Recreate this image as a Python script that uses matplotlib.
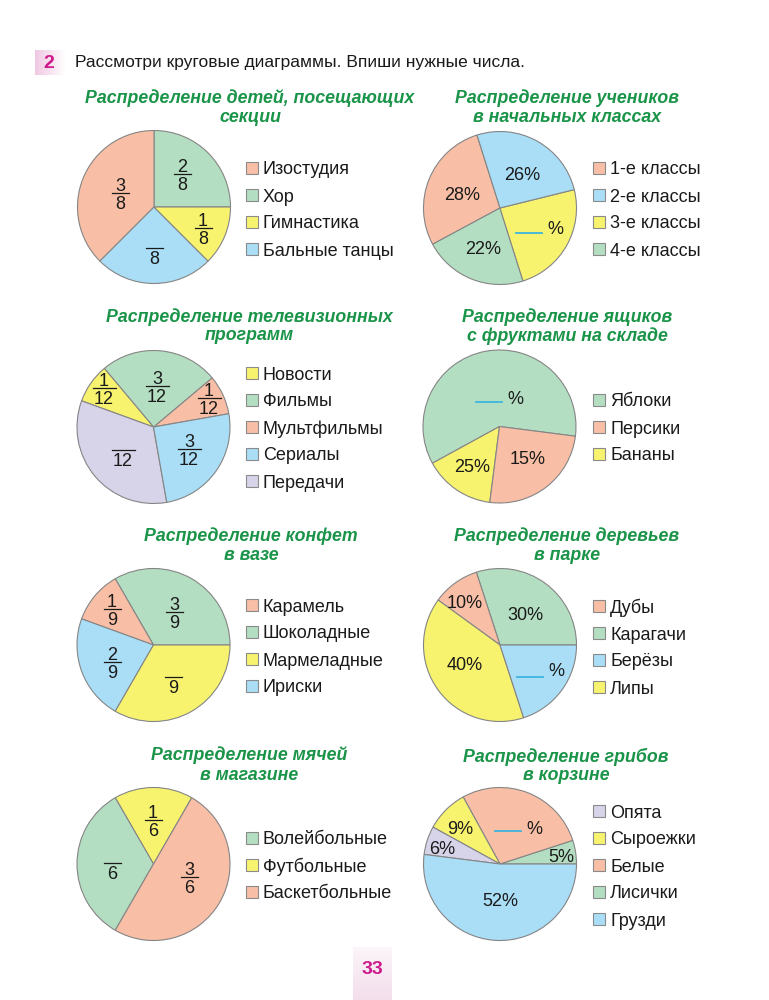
import matplotlib.pyplot as plt
import numpy as np
from matplotlib.patches import Rectangle
from matplotlib.colors import LinearSegmentedColormap

W, H = 769, 1000
FONT = ['Liberation Sans', 'DejaVu Sans']

PINK = '#F9BFA6'
GREEN = '#B4DEC2'
YELLOW = '#F7F36F'
BLUE = '#A9DEF6'
LILAC = '#D7D4EA'
TITLE_GREEN = '#1A9448'
MAGENTA = '#CF1A8C'
BLANK = '#3DB5DE'
FS = 13

# --- data (legend order) ---
sec_labels = ['Изостудия', 'Хор', 'Гимнастика', 'Бальные танцы']
sec_values = [3, 2, 1, 2]
sec_text = [('3', '8'), ('2', '8'), ('1', '8'), ('', '8')]

cls_labels = ['1-е классы', '2-е классы', '3-е классы', '4-е классы']
cls_values = [28, 26, 24, 22]
cls_text = ['28%', '26%', '', '22%']

tv_labels = ['Новости', 'Фильмы', 'Мультфильмы', 'Сериалы', 'Передачи']
tv_values = [1, 3, 1, 3, 4]
tv_text = [('1', '12'), ('3', '12'), ('1', '12'), ('3', '12'), ('', '12')]

fruit_labels = ['Яблоки', 'Персики', 'Бананы']
fruit_values = [60, 25, 15]          # wedge sizes as drawn
fruit_text = ['', '15%', '25%']      # numbers as printed

candy_labels = ['Карамель', 'Шоколадные', 'Мармеладные', 'Ириски']
candy_values = [1, 3, 3, 2]
candy_text = [('1', '9'), ('3', '9'), ('', '9'), ('2', '9')]

tree_labels = ['Дубы', 'Карагачи', 'Берёзы', 'Липы']
tree_values = [10, 30, 20, 40]
tree_text = ['10%', '30%', '', '40%']

ball_labels = ['Волейбольные', 'Футбольные', 'Баскетбольные']
ball_values = [2, 1, 3]
ball_text = [('', '6'), ('1', '6'), ('3', '6')]

mush_labels = ['Опята', 'Сыроежки', 'Белые', 'Лисички', 'Грузди']
mush_values = [6, 9, 28, 5, 52]
mush_text = ['6%', '9%', '', '5%', '52%']

# --- layout ---
charts = [
    dict(title=['Распределение детей, посещающих', 'секции'], tx=250, ty=[96, 115],
         labels=sec_labels, values=sec_values, text=sec_text, kind='frac',
         colors=[PINK, GREEN, YELLOW, BLUE], order=[1, 0, 3, 2], start=0,
         c=(154, 207), lx=246, ly=[168, 195, 222, 249],
         pos=[(120, 193), (182, 174), (203, 228), (154, 248)]),
    dict(title=['Распределение учеников', 'в начальных классах'], tx=567, ty=[96, 115],
         labels=cls_labels, values=cls_values, text=cls_text, kind='pct',
         colors=[PINK, BLUE, YELLOW, GREEN], order=[0, 3, 2, 1], start=107.5,
         c=(500, 208), lx=593, ly=[168, 195, 222, 249],
         pos=[(462, 193), (522, 173), (529, 233), (483, 248)], pct=(555, 227)),
    dict(title=['Распределение телевизионных', 'программ'], tx=249, ty=[315, 334],
         labels=tv_labels, values=tv_values, text=tv_text, kind='frac',
         colors=[YELLOW, GREEN, PINK, BLUE, LILAC], order=[2, 1, 0, 4, 3], start=10,
         c=(153.5, 427), lx=246, ly=[373, 400, 427, 454, 481],
         pos=[(104, 388), (157, 386), (209, 398), (189, 449), (123, 450)]),
    dict(title=['Распределение ящиков', 'с фруктами на складе'], tx=567, ty=[315, 334],
         labels=fruit_labels, values=fruit_values, text=fruit_text, kind='pct',
         colors=[GREEN, PINK, YELLOW], order=[0, 2, 1], start=-7.3,
         c=(499.5, 426.5), lx=593, ly=[400, 427, 454],
         pos=[(489, 402), (528, 458), (472, 466)], pct=(515, 397)),
    dict(title=['Распределение конфет', 'в вазе'], tx=251, ty=[534, 554],
         labels=candy_labels, values=candy_values, text=candy_text, kind='frac',
         colors=[PINK, GREEN, YELLOW, BLUE], order=[1, 0, 3, 2], start=0,
         c=(153.5, 645), lx=246, ly=[605, 632, 659, 686],
         pos=[(112, 609), (174, 612), (173, 677), (112, 662)]),
    dict(title=['Распределение деревьев', 'в парке'], tx=567, ty=[534, 554],
         labels=tree_labels, values=tree_values, text=tree_text, kind='pct',
         colors=[PINK, GREEN, BLUE, YELLOW], order=[1, 0, 3, 2], start=0,
         c=(500, 645), lx=593, ly=[606, 633, 660, 687],
         pos=[(465, 602), (525, 614), (530, 677), (465, 663)], pct=(556, 670)),
    dict(title=['Распределение мячей', 'в магазине'], tx=249, ty=[753, 773],
         labels=ball_labels, values=ball_values, text=ball_text, kind='frac',
         colors=[GREEN, YELLOW, PINK], order=[1, 0, 2], start=60,
         c=(153.5, 864), lx=246, ly=[838, 865, 892],
         pos=[(112, 863), (153, 820), (189, 877)]),
    dict(title=['Распределение грибов', 'в корзине'], tx=566, ty=[755, 773],
         labels=mush_labels, values=mush_values, text=mush_text, kind='pct',
         colors=[LILAC, YELLOW, PINK, GREEN, BLUE], order=[3, 2, 1, 0, 4], start=0,
         c=(500, 864), lx=593, ly=[811, 838, 865, 892, 919],
         pos=[(442, 847), (460, 828), (508, 831), (561, 856), (500, 899)], pct=(534, 827)),
]
R = 76.5


def Y(y):
    return H - y


fig = plt.figure(figsize=(W / 100, H / 100), dpi=100)
ax = fig.add_axes([0, 0, 1, 1])

# header
cm_head = LinearSegmentedColormap.from_list('h', ['#EFC9E2', '#FFFFFF'])
ax.imshow(np.linspace(0, 1, 64).reshape(1, -1), cmap=cm_head, aspect='auto',
          extent=[35, 66, Y(75), Y(50)], zorder=0)
ax.text(49, Y(62), '2', color=MAGENTA, fontsize=14, fontweight='bold',
        ha='center', va='center_baseline', family=FONT)
ax.text(75, Y(61), 'Рассмотри круговые диаграммы. Впиши нужные числа.',
        color='#1a1a1a', fontsize=12.5, ha='left', va='center_baseline', family=FONT)

for ch in charts:
    cx, cy = ch['c']
    order = ch['order']
    ax.pie([ch['values'][i] for i in order],
           colors=[ch['colors'][i] for i in order],
           startangle=ch['start'], counterclock=True,
           center=(cx, Y(cy)), radius=R,
           wedgeprops=dict(edgecolor='#858585', linewidth=0.8))

    for line, ty in zip(ch['title'], ch['ty']):
        ax.text(ch['tx'], Y(ty), line, color=TITLE_GREEN, fontsize=12.8,
                fontweight='bold', fontstyle='italic', ha='center',
                va='center_baseline', family=FONT)

    # legend
    for lab, col, ly in zip(ch['labels'], ch['colors'], ch['ly']):
        ax.add_patch(Rectangle((ch['lx'], Y(ly) - 6), 12, 12, facecolor=col,
                               edgecolor='#8a8a8a', linewidth=0.8))
        ax.text(ch['lx'] + 17, Y(ly), lab, fontsize=FS, color='#1a1a1a',
                ha='left', va='center_baseline', family=FONT)

    # wedge labels
    for t, (x, y) in zip(ch['text'], ch['pos']):
        if ch['kind'] == 'frac':
            num, den = t
            w = 23 if len(den) > 1 else 17
            ax.plot([x - w / 2, x + w / 2], [Y(y), Y(y)], color='#1a1a1a', lw=0.9)
            if num:
                ax.text(x, Y(y) + 2, num, fontsize=FS, color='#1a1a1a',
                        ha='center', va='baseline', family=FONT)
            ax.text(x, Y(y) - 3, den, fontsize=FS, color='#1a1a1a',
                    ha='center', va='top', family=FONT)
        else:
            if t:
                ax.text(x, Y(y), t, fontsize=FS, color='#1a1a1a',
                        ha='center', va='center_baseline', family=FONT)
            else:
                ax.plot([x - 13, x + 13], [Y(y), Y(y)], color=BLANK, lw=1.3)
                px, py = ch['pct']
                ax.text(px, Y(py), '%', fontsize=FS, color='#1a1a1a',
                        ha='center', va='center_baseline', family=FONT)

# page number
cm_page = LinearSegmentedColormap.from_list('p', ['#FCF5F9', '#F3DEEC'])
ax.imshow(np.linspace(0, 1, 64).reshape(-1, 1), cmap=cm_page, aspect='auto',
          extent=[353, 392, Y(1000), Y(947)], zorder=0)
ax.text(372.5, Y(967), '33', color=MAGENTA, fontsize=14, fontweight='bold',
        ha='center', va='center_baseline', family=FONT)

ax.set_xlim(0, W)
ax.set_ylim(0, H)
ax.set_aspect('auto')
ax.axis('off')
fig.savefig('out.png', dpi=100)
